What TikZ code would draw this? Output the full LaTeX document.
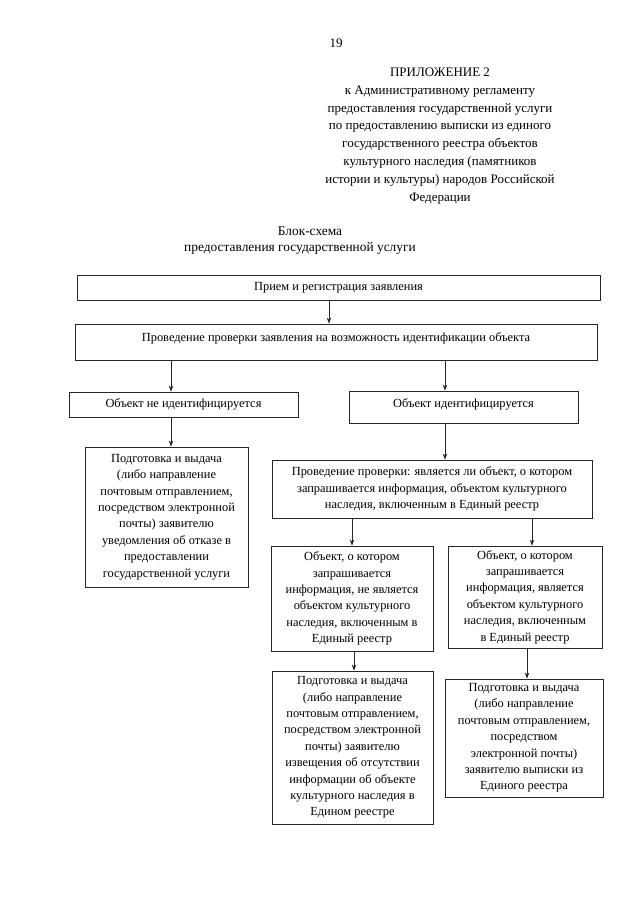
\documentclass[tikz,border=0pt]{standalone}
\usepackage{fontspec}
\setmainfont{Liberation Serif}
\usetikzlibrary{arrows.meta}
\begin{document}
\begin{tikzpicture}[x=1pt,y=-1pt,
  box/.style={draw=black!85, line width=0.8pt, inner sep=0pt, align=center,
    font=\fontsize{12.4}{16.4}\selectfont},
  lbl/.style={inner sep=0pt, align=center, font=\fontsize{12.4}{16.4}\selectfont},
  head/.style={inner sep=0pt, align=center, font=\fontsize{13}{17.9}\selectfont},
  titl/.style={inner sep=0pt, align=center, font=\fontsize{13.4}{17}\selectfont},
  arr/.style={draw=black!85, line width=0.8pt, -{Stealth[length=6pt,width=4.5pt]}}]
\useasboundingbox[fill=white] (0,0) rectangle (640,905);

\node[head] (page) at (336,43) {19};
\node[head] (app) at (440,136) {ПРИЛОЖЕНИЕ 2\\к Административному регламенту\\предоставления государственной услуги\\по предоставлению выписки из единого\\государственного реестра объектов\\культурного наследия (памятников\\истории и культуры) народов Российской\\Федерации};
\node[titl] (title1) at (310,231) {Блок-схема};
\node[titl] (title2) at (300,248) {предоставления государственной услуги};

\node[box, minimum width=523, minimum height=25] (b1) at (338.5,287.5) {Прием и регистрация заявления};
\node[box, minimum width=522, minimum height=36] (b2) at (336,342) {};
\node[lbl] (b2t) at ([yshift=4pt]b2.center) {Проведение проверки заявления на возможность идентификации объекта};
\node[box, minimum width=229, minimum height=25] (n1) at (183.5,404.5) {Объект не идентифицируется};
\node[box, minimum width=229, minimum height=32] (n2) at (463.5,407) {};
\node[lbl] (n2t) at ([yshift=3pt]n2.center) {Объект идентифицируется};
\node[box, minimum width=163, minimum height=140] (r1) at (166.5,517) {Подготовка и выдача\\(либо направление\\почтовым отправлением,\\посредством электронной\\почты) заявителю\\уведомления об отказе в\\предоставлении\\государственной услуги};
\node[box, minimum width=320, minimum height=58] (c1) at (432,489) {Проведение проверки: является ли объект, о котором\\запрашивается информация, объектом культурного\\наследия, включенным в Единый реестр};
\node[box, minimum width=162, minimum height=105] (k1) at (352,598.5) {Объект, о котором\\запрашивается\\информация, не является\\объектом культурного\\наследия, включенным в\\Единый реестр};
\node[box, minimum width=154, minimum height=102] (k2) at (525,597) {Объект, о котором\\запрашивается\\информация, является\\объектом культурного\\наследия, включенным\\в Единый реестр};
\node[box, minimum width=161, minimum height=153] (r2) at (352.5,747.5) {Подготовка и выдача\\(либо направление\\почтовым отправлением,\\посредством электронной\\почты) заявителю\\извещения об отсутствии\\информации об объекте\\культурного наследия в\\Едином реестре};
\node[box, minimum width=158, minimum height=118] (r3) at (524,738) {Подготовка и выдача\\(либо направление\\почтовым отправлением,\\посредством\\электронной почты)\\заявителю выписки из\\Единого реестра};

\coordinate (x1) at (329,0);
\coordinate (x2) at (171,0);
\coordinate (x3) at (445,0);
\coordinate (x4) at (352,0);
\coordinate (x5) at (532,0);
\coordinate (x6) at (354,0);
\coordinate (x7) at (527,0);

\draw[arr] (b1.south -| x1) -- (b2.north -| x1);
\draw[arr] (b2.south -| x2) -- (n1.north -| x2);
\draw[arr] (b2.south -| x3) -- (n2.north -| x3);
\draw[arr] (n1.south -| x2) -- (r1.north -| x2);
\draw[arr] (n2.south -| x3) -- (c1.north -| x3);
\draw[arr] (c1.south -| x4) -- (k1.north -| x4);
\draw[arr] (c1.south -| x5) -- (k2.north -| x5);
\draw[arr] (k1.south -| x6) -- (r2.north -| x6);
\draw[arr] (k2.south -| x7) -- (r3.north -| x7);
\end{tikzpicture}
\end{document}
